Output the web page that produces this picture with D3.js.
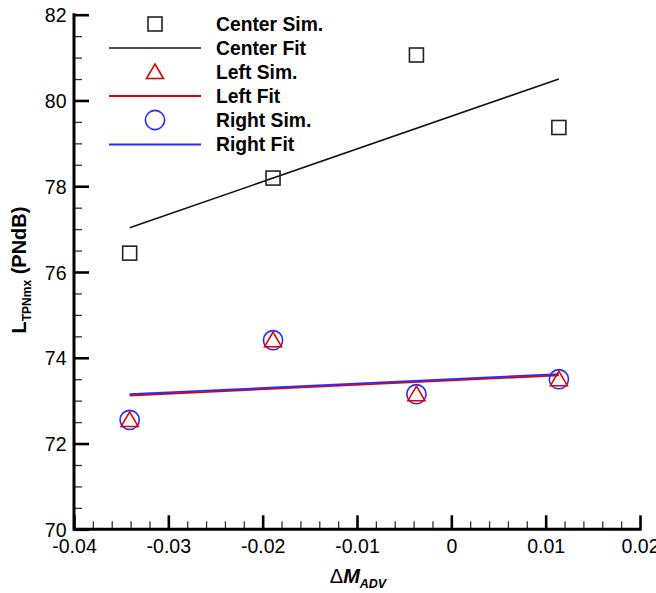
<!DOCTYPE html>
<html>
<head>
<meta charset="utf-8">
<script src="https://cdn.jsdelivr.net/npm/d3@7/dist/d3.min.js"></script>
<style>
  html, body { margin: 0; padding: 0; background: #fff; }
  svg { display: block; font-family: "Liberation Sans", Arial, sans-serif; }
</style>
</head>
<body>
<svg id="chart" width="656" height="593"></svg>
<script>
// Simulated noise levels against Mach advance, with linear fits
const simX = [-0.0341, -0.0189, -0.0037, 0.0114];
const centerSim = [76.44, 78.19, 81.06, 79.37];
const leftSim = [72.55, 74.41, 73.15, 73.50];
const rightSim = [72.55, 74.41, 73.15, 73.50];

const fitX = [-0.0341, 0.0114];
const centerFit = [77.03, 80.50];
const leftFit = [73.12, 73.59];
const rightFit = [73.15, 73.62];

const xTicks = [-0.04, -0.03, -0.02, -0.01, 0, 0.01, 0.02];
const xTickLabels = ["-0.04", "-0.03", "-0.02", "-0.01", "0", "0.01", "0.02"];
const yTicks = [70, 72, 74, 76, 78, 80, 82];
const yTickLabels = ["70", "72", "74", "76", "78", "80", "82"];

const legendLabels = ["Center Sim.", "Center Fit", "Left Sim.", "Left Fit", "Right Sim.", "Right Fit"];

const BLUE = "#2a2aff";
const RED = "#e00000";
const BLACK = "#111";

const svg = d3.select("#chart");

const x = d3.scaleLinear().domain([-0.04, 0.02]).range([74, 640]);
const y = d3.scaleLinear().domain([70, 82]).range([529.3, 14.7]);

// minor ticks
const xMinor = d3.range(-0.04, 0.02001, 0.002).filter(v => !xTicks.some(t => Math.abs(t - v) < 1e-9));
const yMinor = d3.range(70, 82.001, 0.5).filter(v => !yTicks.some(t => Math.abs(t - v) < 1e-9));

const gx = svg.append("g").attr("transform", `translate(0,${y(70)})`);
gx.call(d3.axisBottom(x).tickValues(xMinor).tickSize(-8).tickFormat(""))
  .call(g => g.select(".domain").remove())
  .call(g => g.selectAll("line").attr("stroke", "#333").attr("stroke-width", 1.3));
gx.append("g").call(d3.axisBottom(x).tickValues(xTicks).tickSize(-14).tickPadding(0)
    .tickFormat((d, i) => xTickLabels[i]))
  .call(g => g.select(".domain").remove())
  .call(g => g.selectAll("line").attr("stroke", "#000").attr("stroke-width", 2.6))
  .call(g => g.selectAll("text").attr("y", 23.5).attr("dy", null)
    .attr("font-size", 19.5).attr("fill", "#000")
    .attr("font-family", "'Liberation Sans', Arial, sans-serif"));

const gy = svg.append("g").attr("transform", `translate(${x(-0.04)},0)`);
gy.call(d3.axisLeft(y).tickValues(yMinor).tickSize(-8).tickFormat(""))
  .call(g => g.select(".domain").remove())
  .call(g => g.selectAll("line").attr("stroke", "#333").attr("stroke-width", 1.3));
gy.append("g").call(d3.axisLeft(y).tickValues(yTicks).tickSize(-15).tickPadding(0)
    .tickFormat((d, i) => yTickLabels[i]))
  .call(g => g.select(".domain").remove())
  .call(g => g.selectAll("line").attr("stroke", "#000").attr("stroke-width", 2.6))
  .call(g => g.selectAll("text").attr("x", -7.5).attr("dy", "0.36em")
    .attr("font-size", 19.5).attr("fill", "#000")
    .attr("font-family", "'Liberation Sans', Arial, sans-serif"));

// axis spines
svg.append("path")
  .attr("d", `M${x(-0.04)},${y(82)}V${y(70)}H${x(0.02)}`)
  .attr("fill", "none").attr("stroke", "#000").attr("stroke-width", 3)
  .attr("stroke-linejoin", "miter").attr("stroke-linecap", "square");

// fit lines
const line = d3.line().x(d => x(d[0])).y(d => y(d[1]));
const fitSeries = [
  { vals: centerFit, color: BLACK, w: 1.6 },
  { vals: leftFit, color: RED, w: 1.8 },
  { vals: rightFit, color: BLUE, w: 1.8 }
];
fitSeries.forEach(s => {
  svg.append("path")
    .datum(fitX.map((v, i) => [v, s.vals[i]]))
    .attr("d", line).attr("fill", "none")
    .attr("stroke", s.color).attr("stroke-width", s.w);
});

// marker shapes
function square(g, cx, cy) {
  g.append("rect").attr("x", cx - 7).attr("y", cy - 7).attr("width", 14).attr("height", 14)
    .attr("fill", "none").attr("stroke", "#222").attr("stroke-width", 1.6);
}
function triangle(g, cx, cy) {
  g.append("path").attr("d", `M${cx},${cy - 8}L${cx + 8.5},${cy + 6.5}L${cx - 8.5},${cy + 6.5}Z`)
    .attr("fill", "none").attr("stroke", RED).attr("stroke-width", 1.6);
}
function circle(g, cx, cy) {
  g.append("circle").attr("cx", cx).attr("cy", cy).attr("r", 9.6)
    .attr("fill", "none").attr("stroke", BLUE).attr("stroke-width", 1.6);
}

const marks = svg.append("g");
simX.forEach((v, i) => square(marks, x(v), y(centerSim[i])));
simX.forEach((v, i) => circle(marks, x(v), y(rightSim[i])));
simX.forEach((v, i) => triangle(marks, x(v), y(leftSim[i])));

// legend
const legend = svg.append("g");
const rowY = [24, 48, 72, 96, 120, 144.5];
const kinds = [
  g => square(g, 155, rowY[0]),
  g => g.append("line").attr("x1", 109).attr("x2", 201).attr("y1", rowY[1]).attr("y2", rowY[1])
        .attr("stroke", BLACK).attr("stroke-width", 1.6),
  g => triangle(g, 155, rowY[2]),
  g => g.append("line").attr("x1", 109).attr("x2", 201).attr("y1", rowY[3]).attr("y2", rowY[3])
        .attr("stroke", RED).attr("stroke-width", 1.8),
  g => circle(g, 155, rowY[4]),
  g => g.append("line").attr("x1", 109).attr("x2", 201).attr("y1", rowY[5]).attr("y2", rowY[5])
        .attr("stroke", BLUE).attr("stroke-width", 1.8)
];
legendLabels.forEach((lab, i) => {
  kinds[i](legend);
  legend.append("text").attr("x", 216).attr("y", rowY[i] + 6.8)
    .attr("font-size", 19.3).attr("font-weight", "bold").attr("fill", "#000").text(lab);
});

// y axis title
const yt = svg.append("text")
  .attr("transform", "translate(25.5,270) rotate(-90)")
  .attr("text-anchor", "middle").attr("font-weight", "bold").attr("fill", "#000");
yt.append("tspan").attr("font-size", 20).text("L");
yt.append("tspan").attr("font-size", 12).attr("dy", 5).text("TPNmx");
yt.append("tspan").attr("font-size", 20).attr("dy", -5).text(" (PNdB)");

// x axis title
const xt = svg.append("text")
  .attr("x", 358).attr("y", 583)
  .attr("text-anchor", "middle").attr("fill", "#000");
xt.append("tspan").attr("font-size", 20).text("Δ");
xt.append("tspan").attr("font-size", 20).attr("font-weight", "bold").attr("font-style", "italic").text("M");
xt.append("tspan").attr("font-size", 12.5).attr("font-weight", "bold").attr("font-style", "italic")
  .attr("dy", 5).text("ADV");
</script>
</body>
</html>
